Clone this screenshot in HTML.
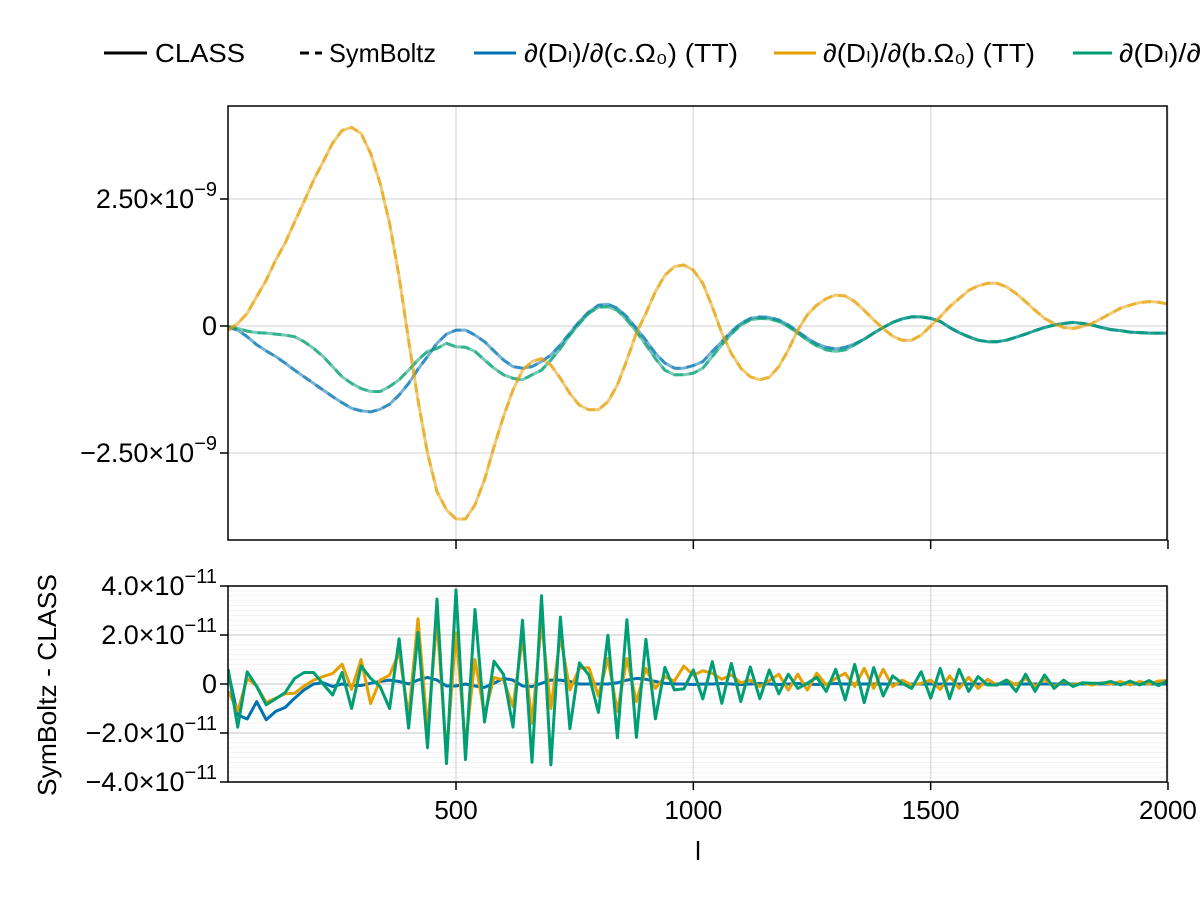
<!DOCTYPE html>
<html><head><meta charset="utf-8"><style>
body{margin:0;background:#fff;}
svg{display:block;font-family:"Liberation Sans","DejaVu Sans",sans-serif;}
</style></head><body>
<svg id="chart" width="1200" height="900" viewBox="0 0 1200 900">
<g id="legend" font-size="26" fill="#000">
 <g><line x1="104" y1="53" x2="147" y2="53" stroke="#000" stroke-width="3"/><text x="155" y="62" textLength="90" lengthAdjust="spacingAndGlyphs">CLASS</text></g>
 <g><line x1="300" y1="53" x2="322" y2="53" stroke="#000" stroke-width="3" stroke-dasharray="9,6"/><text x="329" y="62" textLength="107" lengthAdjust="spacingAndGlyphs">SymBoltz</text></g>
 <g><line x1="474" y1="53" x2="516" y2="53" stroke="#0072b2" stroke-width="3"/><text x="524" y="62" textLength="214" lengthAdjust="spacingAndGlyphs">∂(Dₗ)/∂(c.Ω₀) (TT)</text></g>
 <g><line x1="774" y1="53" x2="816" y2="53" stroke="#e69f00" stroke-width="3"/><text x="823" y="62" textLength="212" lengthAdjust="spacingAndGlyphs">∂(Dₗ)/∂(b.Ω₀) (TT)</text></g>
 <g><line x1="1073" y1="53" x2="1112" y2="53" stroke="#009e73" stroke-width="3"/><text x="1119" y="62" textLength="180" lengthAdjust="spacingAndGlyphs">∂(Dₗ)/∂(h) (TT)</text></g>
</g>
<g id="toppanel"></g>
<g id="botpanel"></g>
<text x="698" y="860" font-size="26" text-anchor="middle">l</text>
<text transform="translate(56,685) rotate(-90)" font-size="26" text-anchor="middle" textLength="222" lengthAdjust="spacingAndGlyphs">SymBoltz - CLASS</text>
</svg>
<script>
const ells = [];
for (let l = 20; l <= 2000; l += 20) ells.push(l);
// top values in units of 1e-9
const topC = [-0.03,-0.08,-0.21,-0.37,-0.49,-0.6,-0.73,-0.87,-1.0,-1.13,-1.26,-1.39,-1.51,-1.62,-1.67,-1.69,-1.64,-1.54,-1.36,-1.13,-0.85,-0.6,-0.34,-0.16,-0.08,-0.08,-0.18,-0.31,-0.49,-0.67,-0.8,-0.83,-0.8,-0.7,-0.57,-0.37,-0.14,0.09,0.28,0.41,0.43,0.35,0.18,-0.05,-0.28,-0.54,-0.73,-0.83,-0.83,-0.78,-0.7,-0.5,-0.31,-0.11,0.05,0.15,0.18,0.17,0.12,0.02,-0.11,-0.24,-0.35,-0.42,-0.45,-0.42,-0.35,-0.26,-0.14,-0.03,0.07,0.14,0.18,0.18,0.15,0.09,-0.03,-0.13,-0.21,-0.28,-0.31,-0.31,-0.28,-0.22,-0.16,-0.09,-0.03,0.02,0.05,0.07,0.05,0.02,-0.03,-0.07,-0.09,-0.12,-0.13,-0.14,-0.14,-0.14];
const topB = [-0.08,0.05,0.25,0.58,0.9,1.3,1.63,2.05,2.45,2.87,3.23,3.6,3.85,3.91,3.79,3.4,2.81,2.02,0.97,-0.28,-1.46,-2.5,-3.26,-3.62,-3.8,-3.8,-3.52,-3.03,-2.38,-1.78,-1.26,-0.87,-0.7,-0.64,-0.77,-1.03,-1.33,-1.56,-1.65,-1.65,-1.49,-1.16,-0.67,-0.14,0.25,0.68,1.0,1.17,1.2,1.1,0.84,0.38,-0.14,-0.54,-0.83,-1.0,-1.06,-1.01,-0.8,-0.47,-0.08,0.22,0.41,0.54,0.61,0.59,0.48,0.31,0.12,-0.05,-0.2,-0.28,-0.28,-0.18,0,0.18,0.38,0.54,0.7,0.79,0.84,0.84,0.77,0.64,0.48,0.31,0.15,0.05,-0.03,-0.05,-0.01,0.05,0.15,0.25,0.35,0.41,0.46,0.48,0.47,0.43];
const topH = [-0.01,-0.05,-0.1,-0.13,-0.14,-0.16,-0.18,-0.21,-0.31,-0.44,-0.6,-0.8,-1.0,-1.13,-1.23,-1.29,-1.29,-1.19,-1.06,-0.87,-0.67,-0.5,-0.44,-0.34,-0.41,-0.42,-0.5,-0.67,-0.83,-0.96,-1.03,-1.06,-0.96,-0.87,-0.67,-0.44,-0.18,0.05,0.25,0.37,0.38,0.31,0.12,-0.11,-0.37,-0.64,-0.87,-0.96,-0.96,-0.93,-0.83,-0.6,-0.37,-0.16,0.02,0.12,0.15,0.14,0.09,-0.01,-0.14,-0.28,-0.39,-0.47,-0.5,-0.47,-0.37,-0.26,-0.14,-0.03,0.07,0.14,0.18,0.18,0.15,0.09,-0.03,-0.13,-0.21,-0.28,-0.31,-0.31,-0.28,-0.22,-0.16,-0.09,-0.03,0.02,0.05,0.07,0.05,0.02,-0.03,-0.07,-0.09,-0.12,-0.13,-0.14,-0.14,-0.14];
// residuals in units of 1e-11
const resC = [0.5,-1.26,-1.43,-0.72,-1.46,-1.12,-0.96,-0.58,-0.24,0,0.05,-0.1,0,-0.06,-0.06,0.03,0.1,0.16,0.1,0,0.16,0.27,0.16,-0.08,-0.08,0,-0.08,-0.14,0.03,0.23,0.16,-0.08,-0.1,0.03,0.16,0.16,0.1,0,0,0,0,0.05,0.16,0.23,0.19,0.1,0.03,0,0,-0.02,0,0,0.02,0,-0.02,0,0.02,0,-0.02,0,0.02,0,-0.02,0,0.02,0,0,0,0,0,0,0,0,0,0,0,0,0,0,0,0,0,0,0,0,0,0,0,0,0,0,0,0,0,0,0,0,0,0,0];
const resB = [-0.3,-1.1,0.23,-0.08,-0.75,-0.58,-0.4,-0.38,-0.08,0.16,0.3,0.43,0.81,-0.22,1.0,-0.8,0.16,0.36,1.3,-1.32,2.66,-1.86,2.6,-2.88,2.08,-2.5,1.0,-1.26,0.27,0.16,-0.92,1.88,-1.6,2.53,-1.0,1.95,-0.24,0.64,0.66,-0.49,1.04,-1.12,1.04,-0.72,0.64,-0.18,0.3,0.12,0.73,0.36,0.54,0.44,0.19,0.37,0.05,0.16,-0.1,0.14,0.4,-0.25,0.4,-0.25,0.44,-0.04,0.23,0.44,-0.1,0.64,-0.18,0.6,-0.1,0.16,-0.04,0.03,0.16,-0.22,0.33,-0.18,0.27,-0.18,0.19,-0.04,0.16,-0.04,0.23,-0.1,0.19,-0.1,0.1,-0.04,0.05,-0.04,0.05,0,0.1,-0.04,0.1,0,0.12,0.14];
const resH = [0.6,-1.76,0.5,-0.1,-0.85,-0.6,-0.35,0.23,0.47,0.47,0,-0.45,0.47,-1.0,0.74,0.23,-0.1,-1.0,1.85,-1.8,2.1,-2.6,3.47,-3.25,3.84,-3.08,3.04,-1.55,0.93,0.39,-1.76,2.6,-3.19,3.6,-3.3,2.73,-1.82,0.86,0.36,-1.16,1.99,-2.2,2.62,-2.18,1.82,-1.42,0.68,-0.24,-0.2,0.57,-0.61,0.91,-0.79,0.84,-0.72,0.7,-0.6,0.57,-0.4,0.4,-0.18,0.03,0.27,-0.3,0.6,-0.65,0.8,-0.76,0.67,-0.49,0.33,0.03,-0.18,0.5,-0.58,0.64,-0.6,0.6,-0.3,0.3,-0.04,-0.04,0.16,-0.3,0.4,-0.3,0.37,-0.18,0.16,-0.1,0.05,0.03,0.03,0.1,-0.04,0.12,-0.04,0.14,-0.07,0.16];
const xTicks = [500,1000,1500,2000];
const topTicks = [-2.5,0,2.5];
const topTickMant = ["\u22122.50\u00d710","0","2.50\u00d710"];
const topTickExp = ["\u22129","","\u22129"];
const botTicks = [-4,-2,0,2,4];
const botTickMant = ["\u22124.0\u00d710","\u22122.0\u00d710","0","2.0\u00d710","4.0\u00d710"];
const botTickExp = ["\u221211","\u221211","","\u221211","\u221211"];

const NS="http://www.w3.org/2000/svg";
const L=228,R=1167;
const xs = l => 218.7 + l*0.47464;
const yTop = v => 326 - v*50.8;
const yBot = v => 684 - v*24.5;
function mk(tag, attrs, parent){const e=document.createElementNS(NS,tag);for(const k in attrs)e.setAttribute(k,attrs[k]);parent.appendChild(e);return e;}
function tickLabel(parent, y, mant, exp, name){
  const tx=mk('text',{x:L-11,y:y+9,'font-size':27,'text-anchor':'end'},parent);
  
  
  const a=mk('tspan',{},tx); a.textContent=mant;
  if(exp){const b=mk('tspan',{'font-size':20,dy:-12},tx); b.textContent=exp;}
}
const topG=document.getElementById('toppanel'), botG=document.getElementById('botpanel');

xTicks.forEach(t=>{const g=mk('line',{x1:xs(t),x2:xs(t),y1:106,y2:540,stroke:'#000','stroke-opacity':0.12,'stroke-width':1.5},topG);


const tk=mk('line',{x1:xs(t),x2:xs(t),y1:540,y2:549,stroke:'#000','stroke-width':1.5},topG);

});
topTicks.forEach((t,i)=>{const g=mk('line',{x1:L,x2:R,y1:yTop(t),y2:yTop(t),stroke:'#000','stroke-opacity':0.12,'stroke-width':1.5},topG);


mk('line',{x1:L-8,x2:L,y1:yTop(t),y2:yTop(t),stroke:'#000','stroke-width':1.5},topG);
tickLabel(topG, yTop(t), topTickMant[i], topTickExp[i], 'top-y-tick-label');});

function line(vals, yf, color, parent, extra, name){
  const d=vals.map((v,i)=>(i?'L':'M')+xs(ells[i]).toFixed(1)+','+yf(v).toFixed(1)).join('');
  const p=mk('path',Object.assign({d:d,fill:'none',stroke:color,'stroke-width':3,'stroke-linejoin':'round'},extra),parent);
  
  
}
const clipTop = mk('clipPath',{id:'ct'},topG); mk('rect',{x:L,y:106,width:R-L,height:434},clipTop);
const gt = mk('g',{'clip-path':'url(#ct)'},topG);
[[topC,'#0072b2','dc'],[topH,'#009e73','dh'],[topB,'#e69f00','db']].forEach(([v,c,n])=>{
  line(v,yTop,c,gt,{'stroke-opacity':0.55},'class-line-'+n);
  line(v,yTop,c,gt,{'stroke-opacity':0.55,'stroke-dasharray':'9,6'},'symboltz-line-'+n);
});
const ft=mk('rect',{x:L,y:106,width:R-L,height:434,fill:'none',stroke:'#000','stroke-width':1.5},topG);



for(let v=-4;v<=4.001;v+=0.2){mk('line',{x1:L,x2:R,y1:yBot(v),y2:yBot(v),stroke:'#000','stroke-opacity':0.05,'stroke-width':1},botG);}
xTicks.forEach(t=>{const g=mk('line',{x1:xs(t),x2:xs(t),y1:586,y2:782,stroke:'#000','stroke-opacity':0.12,'stroke-width':1.5},botG);


mk('line',{x1:xs(t),x2:xs(t),y1:782,y2:790,stroke:'#000','stroke-width':1.5},botG);
const tx=mk('text',{x:xs(t),y:819,'font-size':26,'text-anchor':'middle'},botG);tx.textContent=t;

});
botTicks.forEach((t,i)=>{mk('line',{x1:L,x2:R,y1:yBot(t),y2:yBot(t),stroke:'#000','stroke-opacity':0.12,'stroke-width':1.5},botG);
mk('line',{x1:L-8,x2:L,y1:yBot(t),y2:yBot(t),stroke:'#000','stroke-width':1.5},botG);
tickLabel(botG, yBot(t), botTickMant[i], botTickExp[i], 'bottom-y-tick-label');});
const clipB = mk('clipPath',{id:'cb'},botG); mk('rect',{x:L,y:586,width:R-L,height:196},clipB);
const gb = mk('g',{'clip-path':'url(#cb)'},botG);
line(resC,yBot,'#0072b2',gb,{},'residual-line-dc');
line(resB,yBot,'#e69f00',gb,{},'residual-line-db');
line(resH,yBot,'#009e73',gb,{},'residual-line-dh');
const fb=mk('rect',{x:L,y:586,width:R-L,height:196,fill:'none',stroke:'#000','stroke-width':1.5},botG);


</script>
</body></html>
